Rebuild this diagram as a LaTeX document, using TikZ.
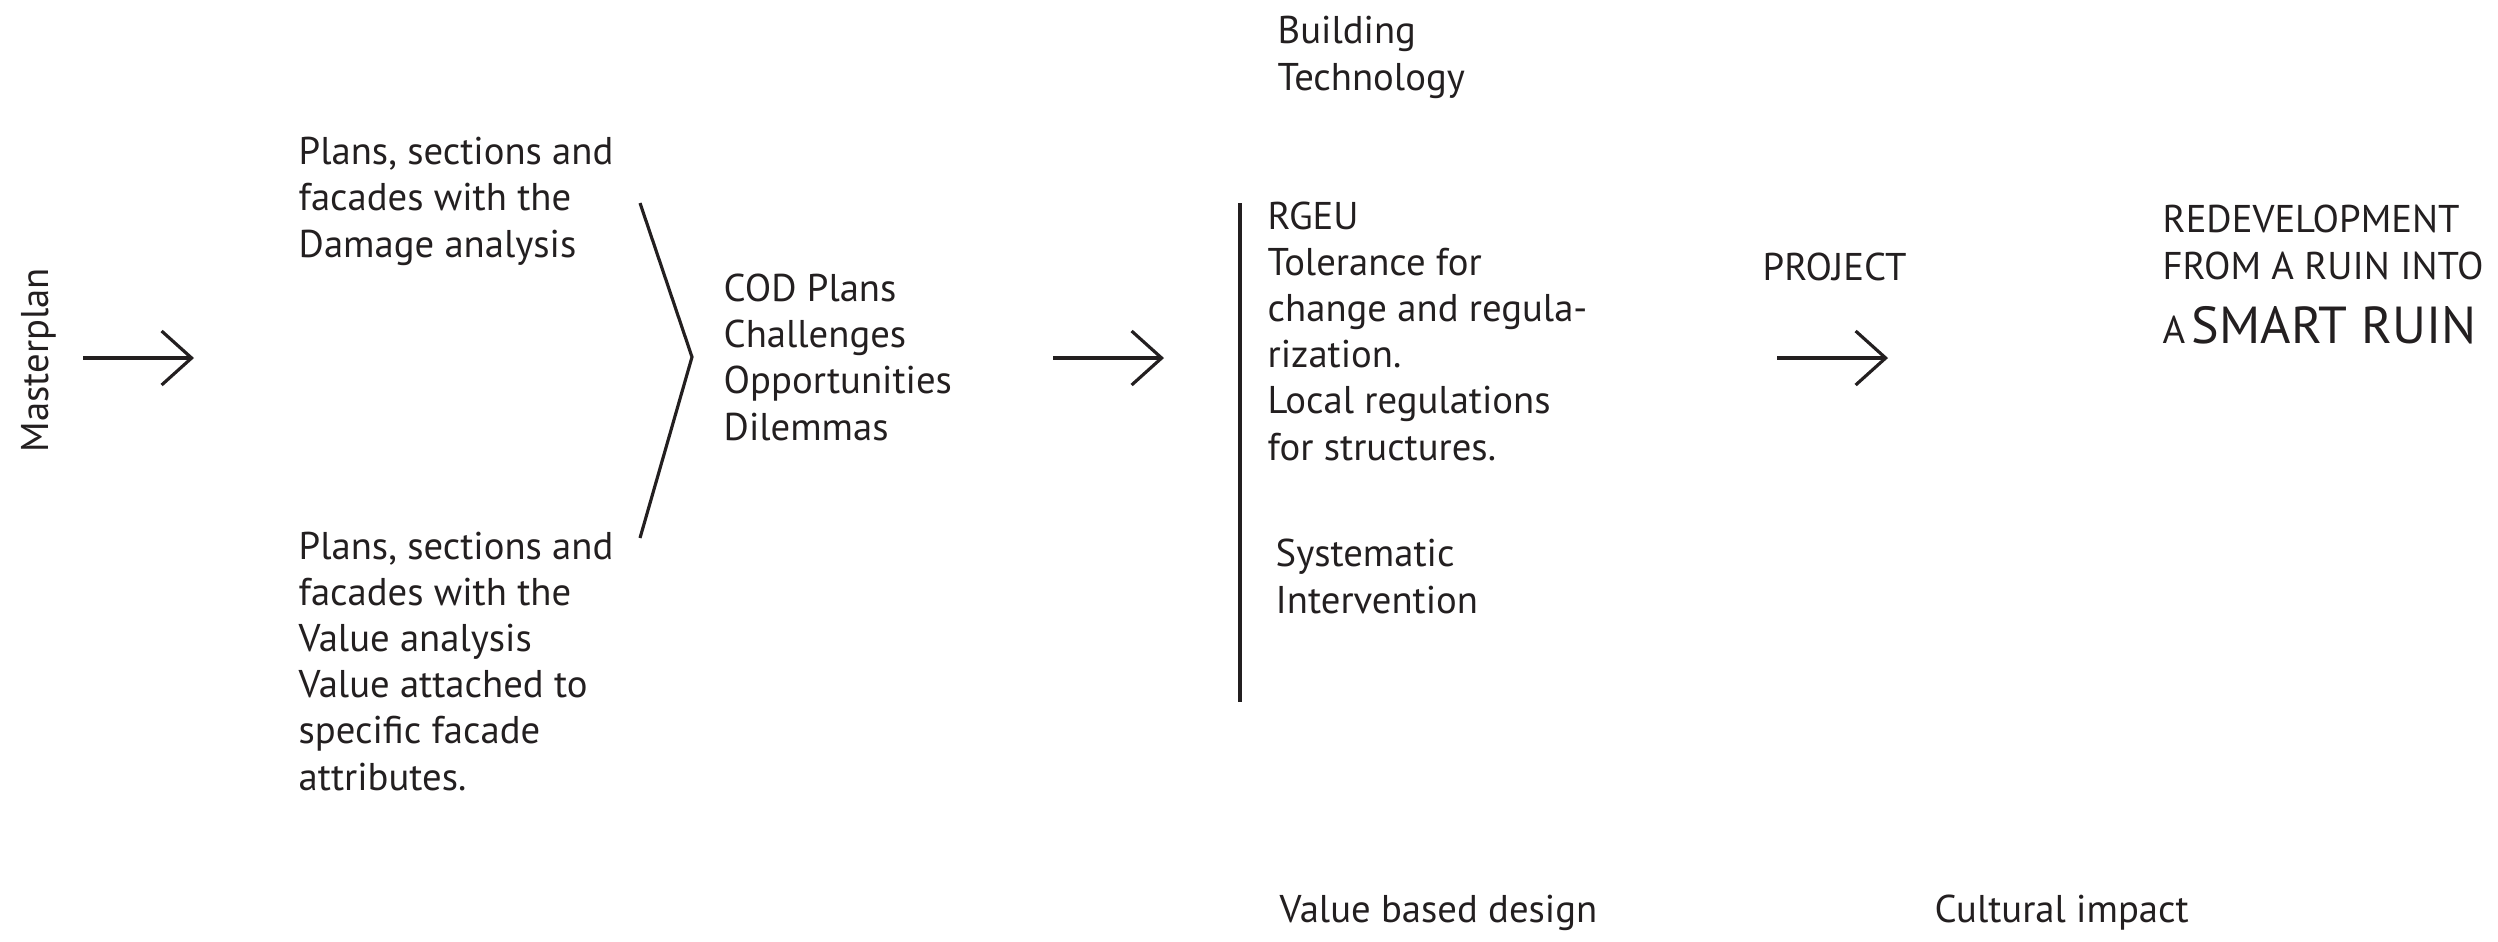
\documentclass[tikz,border=0pt]{standalone}
\usepackage{fontspec}
\setmainfont{PT Sans}
\usetikzlibrary{arrows.meta}
\definecolor{ink}{RGB}{35,31,32}
\begin{document}
\begin{tikzpicture}[x=0.01cm,y=-0.01cm,
  txt/.style={anchor=base west,inner sep=0pt,align=left,text=ink,
    font=\fontsize{11}{13.1}\selectfont},
  flow/.style={draw=ink,line width=0.9pt,-{Straight Barb[length=0.3cm,width=0.54cm,line width=0.9pt]}},
  rule/.style={draw=ink,line width=0.9pt}]
\useasboundingbox (0,0) rectangle (2498,941);

% rotated label
\node[txt,rotate=90] (master) at (48,453) {Masterplan};

% arrows
\coordinate (a1s) at (83,358);  \coordinate (a1e) at (194,358);
\coordinate (a2s) at (1053,358); \coordinate (a2e) at (1164,358);
\coordinate (a3s) at (1777,358); \coordinate (a3e) at (1888,358);
\draw[flow] (a1s) -- (a1e);
\draw[flow] (a2s) -- (a2e);
\draw[flow] (a3s) -- (a3e);

% bracket
\coordinate (bt) at (640,203); \coordinate (bm) at (692,357); \coordinate (bb) at (640,538);
\draw[rule,line join=miter] (bt) -- (bm) -- (bb);

% vertical rule
\coordinate (vt) at (1240,203); \coordinate (vb) at (1240,702);
\draw[rule] (vt) -- (vb);

% texts (anchored at the baseline of the last line)
\node[txt] (damage) at (298,257) {Plans, sections and\\facades with the\\Damage analysis};
\node[txt] (value) at (298,790) {Plans, sections and\\facades with the\\Value analysis\\Value attached to\\specific facade\\attributes.};
\node[txt] (cod) at (723,440) {COD Plans\\Challenges\\Opportunities\\Dilemmas};
\node[txt] (tech) at (1277,90) {Building\\Technology};
\node[txt] (rgeu) at (1267,460) {RGEU\\Tolerance for\\change and regula-\\rization.\\Local regulations\\for structures.};
\node[txt] (sys) at (1275,613) {Systematic\\Intervention};
\node[txt] (project) at (1762,280) {PROJECT};
\node[txt] (redev) at (2162,279) {REDEVELOPMENT\\FROM A RUIN INTO};
\node[txt] (smart) at (2162,343) {A\,{\fontsize{14.8}{16}\selectfont SMART RUIN}};
\node[txt] (vbd) at (1279,922) {Value based design};
\node[txt] (cult) at (1934,922) {Cultural impact};
\end{tikzpicture}
\end{document}
